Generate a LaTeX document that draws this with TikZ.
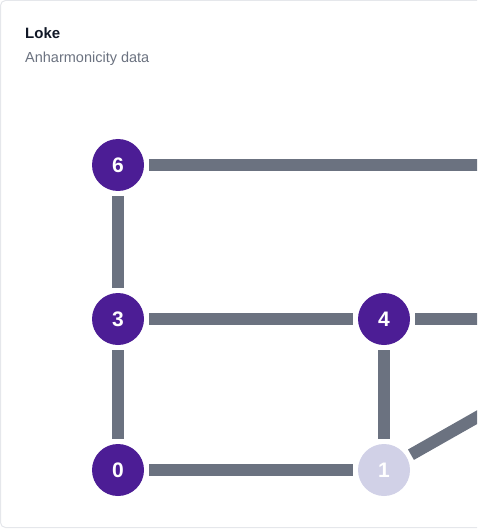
\documentclass[tikz,border=0pt]{standalone}
\usepackage{fontspec}
\setmainfont{Liberation Sans}
\definecolor{cardedge}{HTML}{E5E7EB}
\definecolor{titletext}{HTML}{111827}
\definecolor{subtext}{HTML}{6B7280}
\definecolor{linkgray}{HTML}{6B7280}
\definecolor{sitedark}{HTML}{4C1D95}
\definecolor{sitelight}{HTML}{D1D1E7}
\begin{document}
\begin{tikzpicture}[x=1pt, y=-1pt,
	site/.style={circle, fill=sitedark, minimum size=52pt, inner sep=0pt, outer sep=5pt,
		text=white, font=\fontsize{21}{21}\selectfont\bfseries},
	siteoff/.style={site, fill=sitelight},
	link/.style={line width=12pt, color=linkgray}]
	\clip (0,0) rectangle (477,529);
	\draw[color=cardedge, line width=1pt, rounded corners=5pt] (0.5,0.5) rectangle (540,527.5);
	\node[anchor=base west, inner sep=0pt, font=\fontsize{15}{15}\selectfont\bfseries, text=titletext] (title) at (25,39) {Loke};
	\node[anchor=base west, inner sep=0pt, font=\fontsize{14.5}{14.5}\selectfont, text=subtext] (subtitle) at (25,62.5) {Anharmonicity data};
	\node[site] (n6) at (118,165) {6};
	\node[site] (n3) at (118,319) {3};
	\node[site] (n0) at (118,470) {0};
	\node[site] (n4) at (384,319) {4};
	\node[siteoff] (n1) at (384,470) {1};
	\coordinate (n7) at (650,165);
	\coordinate (n5) at (650,319);
	\draw[link] (n6) -- (n3);
	\draw[link] (n3) -- (n0);
	\draw[link] (n3) -- (n4);
	\draw[link] (n0) -- (n1);
	\draw[link] (n4) -- (n1);
	\draw[link] (n6) -- (n7);
	\draw[link] (n4) -- (n5);
	\draw[link] (n1) -- (n5);
\end{tikzpicture}
\end{document}
